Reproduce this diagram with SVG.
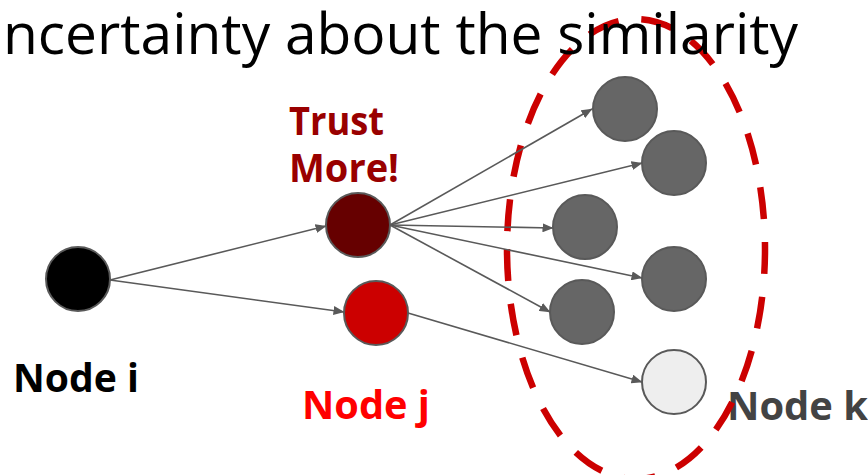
<svg xmlns="http://www.w3.org/2000/svg" width="868" height="475" viewBox="0 0 868 475">
  <style>
    .node { stroke: #595959; stroke-width: 2; }
    .edge { fill: none; stroke: #595959; stroke-width: 1.6; marker-end: url(#arrow); }
    .lbl { font-family: "Open Sans", "Liberation Sans", sans-serif; font-weight: bold; }
    .title { font-family: "Open Sans", "Liberation Sans", sans-serif; font-size: 57px; fill: #000; }
  </style>
  <defs>
    <marker id="arrow" markerUnits="userSpaceOnUse" markerWidth="11" markerHeight="9" refX="10.5" refY="4.5" orient="auto">
      <path d="M0,0 L11,4.5 L0,9 z" fill="#595959"/>
    </marker>
  </defs>
  <rect width="868" height="475" fill="#ffffff"/>

  <!-- label under the dashed group outline -->
  <g id="label-k">
    <text class="lbl" x="727" y="420" font-size="39" fill="#434343" textLength="141" lengthAdjust="spacingAndGlyphs">Node k</text>
  </g>

  <!-- dashed outline around the k-neighbourhood -->
  <g id="group-k">
    <path d="M507 249 A129 230 0 0 0 765 249 A129 230 0 0 0 507 249" fill="none" stroke="#cc0000" stroke-width="6.5" stroke-dasharray="32 23"/>
  </g>

  <g id="title">
    <text class="title" x="3" y="54" textLength="795" lengthAdjust="spacingAndGlyphs">ncertainty about the similarity</text>
  </g>

  <g id="connectors">
    <line class="edge" x1="110" y1="280" x2="326" y2="226"/>
    <line class="edge" x1="110" y1="280" x2="344" y2="312"/>
    <line class="edge" x1="390" y1="225" x2="592" y2="109"/>
    <line class="edge" x1="390" y1="225" x2="642" y2="163"/>
    <line class="edge" x1="390" y1="225" x2="553" y2="228"/>
    <line class="edge" x1="390" y1="225" x2="642" y2="278"/>
    <line class="edge" x1="390" y1="225" x2="550" y2="312"/>
    <line class="edge" x1="408" y1="313" x2="642" y2="382"/>
  </g>

  <g id="node-i">
    <circle class="node" cx="78" cy="279" r="32" fill="#000000"/>
    <text class="lbl" x="13" y="392" font-size="39" fill="#000000" textLength="126" lengthAdjust="spacingAndGlyphs">Node i</text>
  </g>
  <g id="node-trust">
    <circle class="node" cx="358" cy="225" r="32" fill="#660000"/>
    <text class="lbl" x="289" y="135" font-size="40" fill="#990000" textLength="95" lengthAdjust="spacingAndGlyphs">Trust</text>
    <text class="lbl" x="289" y="182" font-size="40" fill="#990000" textLength="110" lengthAdjust="spacingAndGlyphs">More!</text>
  </g>
  <g id="node-j">
    <circle class="node" cx="376" cy="313" r="32" fill="#cc0000"/>
    <text class="lbl" x="302" y="419" font-size="39" fill="#ff0000" textLength="128" lengthAdjust="spacingAndGlyphs">Node j</text>
  </g>
  <g id="node-k1">
    <circle class="node" cx="625" cy="109" r="32" fill="#666666"/>
  </g>
  <g id="node-k2">
    <circle class="node" cx="674" cy="163" r="32" fill="#666666"/>
  </g>
  <g id="node-k3">
    <circle class="node" cx="585" cy="227" r="32" fill="#666666"/>
  </g>
  <g id="node-k4">
    <circle class="node" cx="674" cy="279" r="32" fill="#666666"/>
  </g>
  <g id="node-k5">
    <circle class="node" cx="582" cy="312" r="32" fill="#666666"/>
  </g>
  <g id="node-k6">
    <circle class="node" cx="674" cy="382" r="32" fill="#eeeeee"/>
  </g>
</svg>
